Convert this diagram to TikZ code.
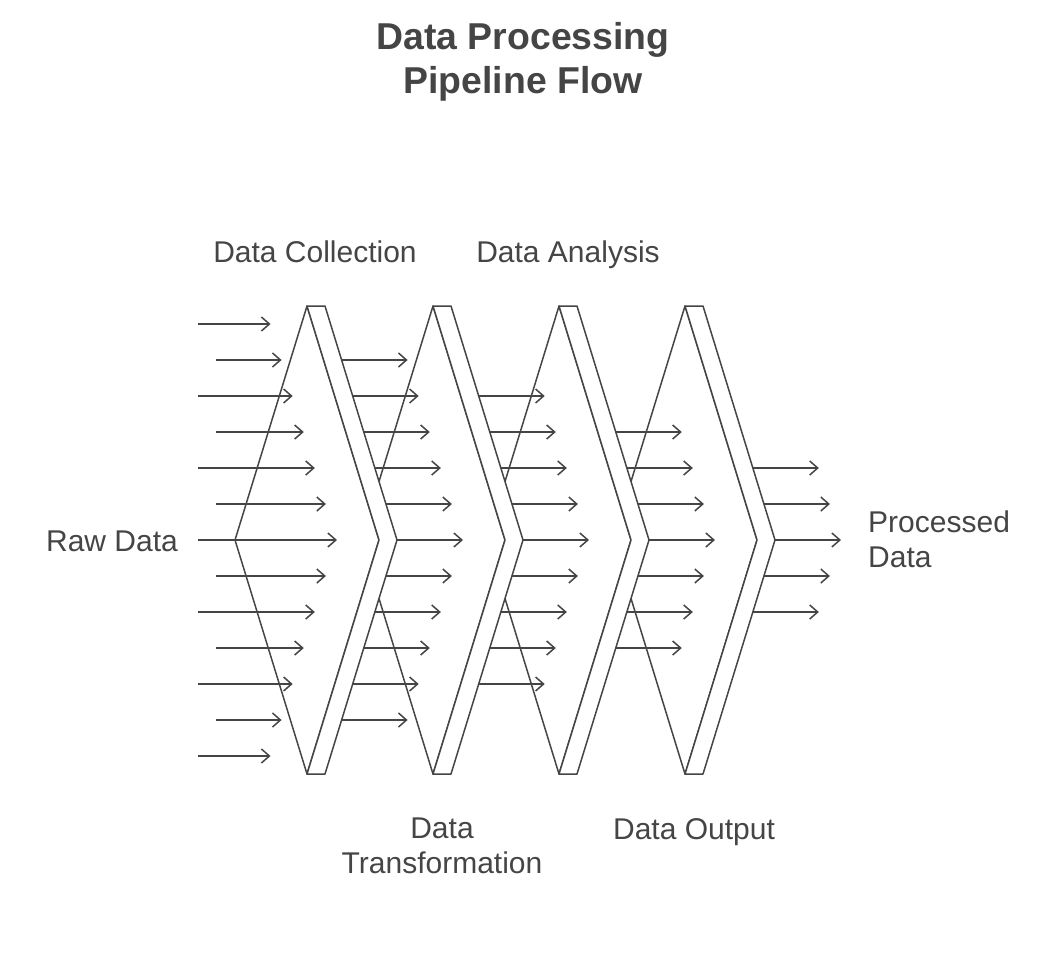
\documentclass[tikz,border=0pt]{standalone}
\usepackage{fontspec}
\setmainfont{Liberation Sans}
\usetikzlibrary{arrows.meta}
\definecolor{ink}{HTML}{454545}
\begin{document}
\begin{tikzpicture}[x=1pt,y=-1pt,
  stage/.style={draw=ink,fill=white,line width=1.5pt,line join=round},
  flow/.style={draw=ink,line width=1.5pt,-{Straight Barb[length=8pt,width=14pt]}},
  lbl/.style={text=ink,font=\fontsize{30}{35}\selectfont,align=center,inner sep=0pt},
  ttl/.style={text=ink,font=\fontsize{37.4}{44}\selectfont\bfseries,align=center,inner sep=0pt}]
\useasboundingbox (0,0) rectangle (1064,956);
% title
\node[ttl] (title) at (523,62) {Data Processing\\Pipeline Flow};
% stages, drawn right to left so that each hides the next one's left edge
\foreach \i in {3,2,1,0}{
  \pgfmathsetmacro\X{307+126*\i}
  \filldraw[stage] (\X-72,540) -- (\X,306) -- (\X+72,540) -- (\X,774) -- cycle;
  \filldraw[stage] (\X,306) -- (\X+18,306) -- (\X+90,540) -- (\X+18,774) -- (\X,774) -- (\X+72,540) -- cycle;
}
% input arrows
\foreach \jj in {0,...,12}{
  \pgfmathtruncatemacro\j{\jj-6}
  \pgfmathsetmacro\yy{540+36*\j}
  \pgfmathsetmacro\sx{isodd(abs(\j)) ? 216 : 198}
  \pgfmathsetmacro\ex{337-72/234*36*abs(\j)}
  \coordinate (in-s\jj) at (\sx,\yy);
  \coordinate (in-e\jj) at (\ex,\yy);
  \draw[flow] (in-s\jj) -- (in-e\jj);
}
% arrows leaving each stage
\foreach \k in {2,...,5}{
  \pgfmathtruncatemacro\m{2*(7-\k)}
  \foreach \jj in {0,...,\m}{
    \pgfmathtruncatemacro\j{\jj-(7-\k)}
    \pgfmathsetmacro\yy{540+36*\j}
    \pgfmathsetmacro\sx{307+126*(\k-2)+90-72/234*36*abs(\j)}
    \pgfmathsetmacro\ex{337+126*(\k-1)-72/234*36*abs(\j)}
    \coordinate (c\k-s\jj) at (\sx,\yy);
    \coordinate (c\k-e\jj) at (\ex,\yy);
    \draw[flow] (c\k-s\jj) -- (c\k-e\jj);
  }
}
% labels
\node[lbl,anchor=base] (collect) at (315,262) {Data Collection};
\node[lbl,anchor=base] (analysis) at (568,262) {Data Analysis};
\node[lbl] (transform) at (442,845.5) {Data\\Transformation};
\node[lbl,anchor=base] (output) at (694,839) {Data Output};
\node[lbl,anchor=base] (raw) at (112,551) {Raw Data};
\node[lbl,align=left,anchor=west] (processed) at (868,539) {Processed\\Data};
\end{tikzpicture}
\end{document}
